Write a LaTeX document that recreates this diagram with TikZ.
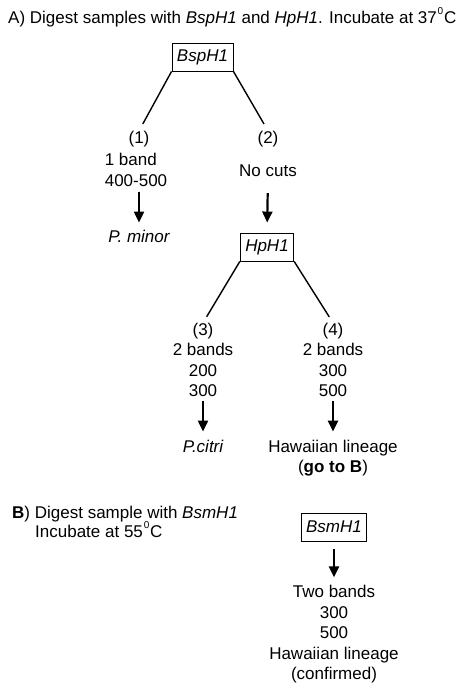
\documentclass[tikz,border=0pt]{standalone}
\usepackage{fontspec}
\setmainfont{Liberation Sans}
\usetikzlibrary{arrows.meta}

\newcommand{\degsup}{\kern0.8pt\raisebox{1.0ex}{\fontsize{10}{10}\selectfont 0}\kern0.8pt}

\tikzset{
  txt/.style={font=\fontsize{17}{20.5}\selectfont, inner sep=0pt, align=center},
  enzyme/.style={draw, line width=0.9pt, font=\fontsize{17}{20.5}\selectfont\itshape,
                 inner xsep=5pt, inner ysep=0pt, minimum height=28pt},
  branch/.style={line width=1.4pt},
  result/.style={line width=2.2pt, -{Triangle[width=10pt,length=11pt]}}
}

\begin{document}
\begin{tikzpicture}[x=1pt,y=-1pt]
   \useasboundingbox (0,0) rectangle (461,686);

   % part A
   \node [txt, anchor=base west] (titleA) at (8,23)
        {A) Digest samples with \textit{BspH1} and \textit{HpH1}. Incubate at 37\degsup C};
   \node [enzyme] (bsp) at (202.5,57) {BspH1};

   \node [txt] (c1) at (139,139) {(1)};
   \node [txt, align=left] (b1) at (136,170) {1 band\\400-500};
   \node [txt, font=\fontsize{17}{20.5}\selectfont\itshape] (pminor) at (139,236) {P. minor};

   \node [txt] (c2) at (268,139) {(2)};
   \node [txt] (nocuts) at (268,171) {No cuts};
   \node [enzyme] (hph) at (267,247) {HpH1};

   \node [txt] (g3) at (203,360) {(3)\\2 bands\\200\\300};
   \node [txt, font=\fontsize{17}{20.5}\selectfont\itshape] (pcitri) at (203,446) {P.citri};

   \node [txt] (g4) at (333,360) {(4)\\2 bands\\300\\500};
   \node [txt] (haw) at (333,458) {Hawaiian lineage\\(\textbf{go to B})};

   \path[branch] (bsp.south west) edge[shorten >=8pt] (c1.north)
                 (bsp.south east) edge[shorten >=8pt] (c2.north)
                 (hph.south west) edge[shorten >=7pt] (g3.north)
                 (hph.south east) edge[shorten >=7pt] (g4.north);

   \path[result] (b1.south -| c1.south) edge[shorten <=5pt, shorten >=7pt] (pminor.north)
                 (nocuts.south) edge[shorten <=16pt, shorten >=10pt] (hph.north)
                 (g3.south) edge[shorten <=4pt, shorten >=8pt] (pcitri.north)
                 (g4.south) edge[shorten <=4pt, shorten >=8pt] (haw.north);

   % part B
   \node [txt, anchor=base west] (titleB) at (12,518)
        {\textbf{B}) Digest sample with \textit{BsmH1}};
   \node [txt, anchor=base west] (tempB) at (35,537) {Incubate at 55\degsup C};
   \node [enzyme] (bsm) at (334,527) {BsmH1};
   \node [txt] (g5) at (334,634.5) {Two bands\\300\\500\\Hawaiian lineage\\(confirmed)};

   \path[result] (bsm.south) edge[shorten <=8pt, shorten >=8pt] (g5.north);
\end{tikzpicture}
\end{document}
